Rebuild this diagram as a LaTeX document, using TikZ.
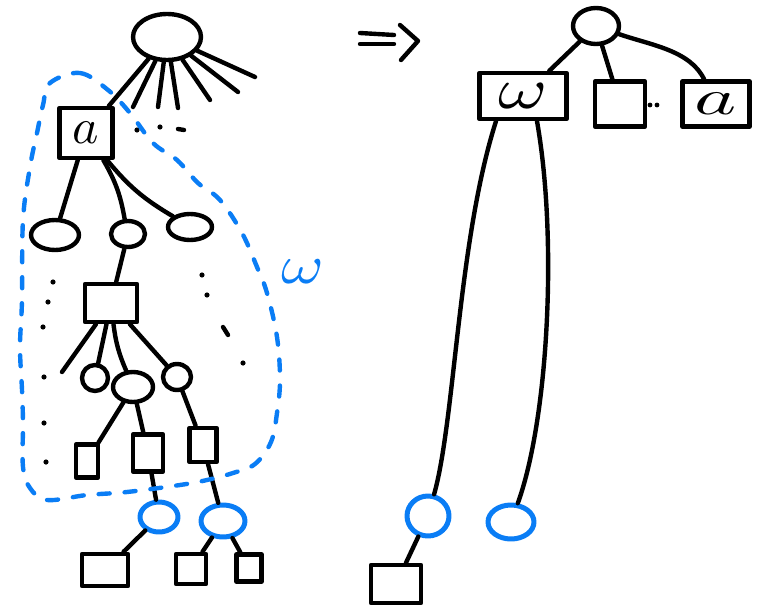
\documentclass[tikz,border=0pt]{standalone}
\usetikzlibrary{shapes.geometric}
\definecolor{myblue}{RGB}{10,125,245}
\begin{document}
\begin{tikzpicture}[x=1pt,y=-1pt,
  ink/.style={line width=4.4pt, line cap=round, line join=round, draw=black},
  oval/.style={ink, ellipse, inner sep=0pt},
  boxn/.style={ink, rectangle, inner sep=0pt},
  blueoval/.style={oval, draw=myblue, line width=5pt},
  hull/.style={line width=4.4pt, draw=myblue, line cap=round, dash pattern=on 11pt off 15pt},
  dotm/.style={fill=black}]
\useasboundingbox (0,0) rectangle (758,610);

% ---------- left tree ----------
\node[oval, minimum width=68pt, minimum height=46pt] (lroot) at (167,37) {};
\node[boxn, minimum width=53pt, minimum height=50pt] (a) at (86,133) {\scalebox{5}{$a$}};
\coordinate (l1) at (133,107);
\coordinate (l2) at (158,107);
\coordinate (l3) at (178,108);
\coordinate (l4) at (210,100);
\coordinate (l5) at (238,92);
\coordinate (l6) at (255,77);
\draw[ink] (lroot) -- (a);
\foreach \c in {l1,l2,l3,l4,l5,l6} \draw[ink] (lroot) -- (\c);
\fill[dotm] (137,130) circle (2.6pt) (160,127) circle (2.6pt);
\draw[ink] (178,129) -- (184,130);

\node[oval, minimum width=48pt, minimum height=30pt] (e1) at (55,235) {};
\node[oval, minimum width=34pt, minimum height=26pt] (e2) at (128,234) {};
\node[oval, minimum width=44pt, minimum height=26pt] (e3) at (190,227) {};
\draw[ink] (a) -- (e1);
\draw[ink] (a) to[bend left=10] (e2);
\draw[ink] (a) to[bend right=10] (e3);

\node[boxn, minimum width=52pt, minimum height=38pt] (b2) at (111,303) {};
\draw[ink] (e2) -- (b2);

\node[oval, minimum width=26pt, minimum height=26pt] (f1) at (95,378) {};
\node[oval, minimum width=40pt, minimum height=30pt] (f2) at (133,387) {};
\node[oval, minimum width=28pt, minimum height=26pt] (f3) at (177,377) {};
\coordinate (fx) at (62,372);
\draw[ink] (b2) -- (fx);
\draw[ink] (b2) -- (f1);
\draw[ink] (b2) to[bend right=8] (f2);
\draw[ink] (b2) -- (f3);

\node[boxn, minimum width=22pt, minimum height=33pt] (g1) at (87,461) {};
\node[boxn, minimum width=30pt, minimum height=37pt] (g2) at (148,453) {};
\node[boxn, minimum width=27pt, minimum height=34pt] (g3) at (203,445) {};
\draw[ink] (f2) -- (g1);
\draw[ink] (f2) -- (g2);
\draw[ink] (f3) -- (g3);

\node[blueoval, minimum width=38pt, minimum height=30pt] (c1) at (159,517) {};
\node[blueoval, minimum width=44pt, minimum height=32pt] (c2) at (223,521) {};
\draw[ink] (g2) -- (c1);
\draw[ink] (g3) -- (c2);

\node[boxn, minimum width=46pt, minimum height=32pt] (h1) at (105,570) {};
\node[boxn, minimum width=30pt, minimum height=30pt] (h2) at (191,569) {};
\node[boxn, minimum width=25pt, minimum height=27pt] (h3) at (249,568) {};
\draw[ink] (c1) -- (h1);
\draw[ink] (c2) -- (h2);
\draw[ink] (c2) -- (h3);

% dotted continuations
\foreach \p in {(53,282),(48,302),(43,327),(44,377),(44,423),(46,462),(202,275),(207,295),(243,363)}
  \fill[dotm] \p circle (2.6pt);
\draw[ink] (223,327) -- (228,335);

% blue hull
\draw[hull] plot[smooth cycle, tension=0.6] coordinates {(50,83) (80,73) (108,90) (130,113) (153,143) (177,160) (198,183) (220,200) (242,233) (257,267) (267,293) (277,337) (280,380) (277,413) (271,442) (255,464) (233,473) (207,480) (180,485) (127,492) (87,495) (47,500) (30,488) (23,467) (23,423) (22,390) (20,347) (22,300) (23,220) (30,167) (37,133) (43,105)};
\node[text=myblue] (wl) at (303,272) {\scalebox{6.5}[5.5]{$\omega$}};

% arrow =>
\draw[ink] (360,33) -- (394,35);
\draw[ink] (360,44) -- (394,44);
\draw[ink] (400,25) -- (418,41) -- (401,60);

% ---------- right tree ----------
\node[oval, minimum width=46pt, minimum height=36pt] (rroot) at (596,26) {};
\node[boxn, minimum width=87pt, minimum height=46pt] (wbox) at (523,96) {\scalebox{7.5}[5.8]{$\omega$}};
\node[boxn, minimum width=50pt, minimum height=45pt] (mbox) at (620,104) {};
\node[boxn, minimum width=67pt, minimum height=45pt] (abox) at (716,104) {\scalebox{8}[5]{$a$}};
\draw[ink] (rroot) -- (wbox);
\draw[ink] (rroot) -- (mbox);
\draw[ink] (rroot) .. controls (650,45) and (690,50) .. (abox);
\fill[dotm] (650,105) circle (2.4pt) (657,105) circle (2.4pt);

\node[blueoval, minimum width=42pt, minimum height=40pt] (rc1) at (428,516) {};
\node[blueoval, minimum width=46pt, minimum height=34pt] (rc2) at (511,522) {};
\draw[ink] ([xshift=-27pt]wbox.south) .. controls (458,240) and (455,420) .. (rc1);
\draw[ink] ([xshift=14pt]wbox.south) .. controls (558,240) and (548,420) .. (rc2);

\node[boxn, minimum width=50pt, minimum height=38pt] (rbox) at (396,584) {};
\draw[ink] (rc1) -- (rbox);
\end{tikzpicture}
\end{document}
